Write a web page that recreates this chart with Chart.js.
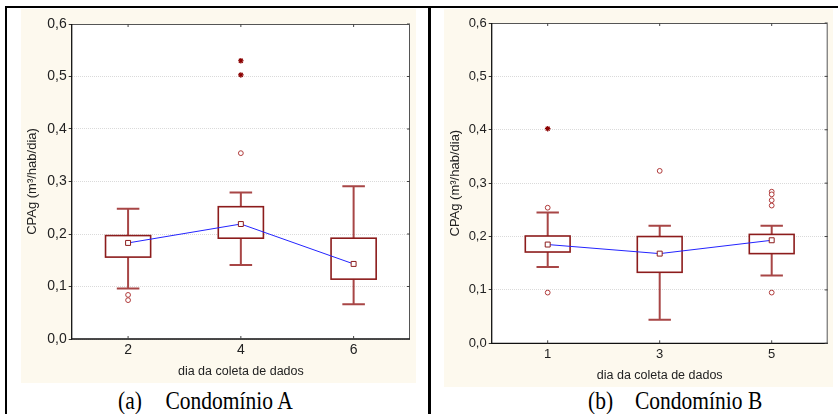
<!DOCTYPE html>
<html>
<head>
<meta charset="utf-8">
<script src="https://cdn.jsdelivr.net/npm/chart.js@4"></script>
<style>
html, body { margin: 0; padding: 0; background: #fff; }
body { width: 838px; height: 414px; position: relative; overflow: hidden; }
.rule { position: absolute; background: #000; }
.panel { position: absolute; background: #fdf9ee; }
.cap {
    position: absolute;
    font-family: 'Liberation Serif', 'Times New Roman', serif;
    font-size: 21.5px;
    line-height: 21.5px;
    color: #000;
    white-space: nowrap;
    transform: scaleY(1.15);
    transform-origin: 0 18px;
}
</style>
</head>
<body>
<div class="rule" style="left:5px;top:6px;width:833px;height:2px"></div>
<div class="rule" style="left:5px;top:6px;width:2px;height:408px"></div>
<div class="rule" style="left:428px;top:6px;width:2.5px;height:408px"></div>

<canvas id="chart-a" class="panel" width="395" height="374" style="left:21px;top:9px"></canvas>
<canvas id="chart-b" class="panel" width="389" height="378" style="left:444px;top:9px"></canvas>

<div class="cap" style="left:118px;top:392px">(a)</div>
<div class="cap" style="left:165.5px;top:392px">Condomínio A</div>
<div class="cap" style="left:588px;top:392px">(b)</div>
<div class="cap" style="left:635px;top:392px">Condomínio B</div>

<script>
// --- Data: Condomínio A ---
const daysA = [2, 4, 6];
const whiskerLowA = [0.096, 0.141, 0.066];
const q1A = [0.156, 0.192, 0.114];
const q3A = [0.197, 0.252, 0.192];
const whiskerHighA = [0.248, 0.279, 0.291];
const meanA = [0.183, 0.219, 0.143];
const outlierDaysA = [2, 2, 4];
const outlierValsA = [0.084, 0.074, 0.354];
const extremeDaysA = [4, 4];
const extremeValsA = [0.530, 0.503];

// --- Data: Condomínio B ---
const daysB = [1, 3, 5];
const whiskerLowB = [0.143, 0.044, 0.127];
const q1B = [0.171, 0.133, 0.168];
const q3B = [0.201, 0.200, 0.204];
const whiskerHighB = [0.245, 0.220, 0.220];
const meanB = [0.185, 0.168, 0.193];
const outlierDaysB = [1, 1, 3, 5, 5, 5, 5, 5];
const outlierValsB = [0.254, 0.095, 0.323, 0.284, 0.279, 0.268, 0.258, 0.095];
const extremeDaysB = [1];
const extremeValsB = [0.402];

// --- Axis labels ---
const yTicks = [0, 0.1, 0.2, 0.3, 0.4, 0.5, 0.6];
const yTitle = 'CPAg (m³/hab/dia)';
const xTitle = 'dia da coleta de dados';

const FONT = "'Liberation Sans', Arial, sans-serif";
const BOX_COLOR = '#8c1c1c';
const WHISKER_COLOR = '#a84646';

// white plot area on the cream panel
const plotBackground = {
    id: 'plotBackground',
    beforeDraw(chart) {
        const { ctx, chartArea: a } = chart;
        ctx.save();
        ctx.fillStyle = '#fff';
        ctx.fillRect(a.left, a.top, a.width, a.height);
        ctx.restore();
    }
};

// boxes, whiskers and the frame round the plot
const boxPlot = {
    id: 'boxPlot',
    beforeDatasetsDraw(chart, args, opts) {
        const { ctx, chartArea: a, scales: { x, y } } = chart;
        const s = opts.stats;
        ctx.save();

        s.days.forEach((day, i) => {
            const xc = x.getPixelForValue(day);
            const halfBox = x.getPixelForValue(day + opts.boxWidth / 2) - xc;
            const halfCap = x.getPixelForValue(day + opts.capWidth / 2) - xc;
            const yLow = y.getPixelForValue(s.low[i]);
            const yQ1 = y.getPixelForValue(s.q1[i]);
            const yQ3 = y.getPixelForValue(s.q3[i]);
            const yHigh = y.getPixelForValue(s.high[i]);

            ctx.strokeStyle = WHISKER_COLOR;
            ctx.lineWidth = 2;
            ctx.beginPath();
            ctx.moveTo(xc, yLow); ctx.lineTo(xc, yQ1);
            ctx.moveTo(xc, yQ3); ctx.lineTo(xc, yHigh);
            ctx.moveTo(xc - halfCap, yLow); ctx.lineTo(xc + halfCap, yLow);
            ctx.moveTo(xc - halfCap, yHigh); ctx.lineTo(xc + halfCap, yHigh);
            ctx.stroke();

            ctx.fillStyle = '#fff';
            ctx.fillRect(xc - halfBox, yQ3, 2 * halfBox, yQ1 - yQ3);
            ctx.strokeStyle = BOX_COLOR;
            ctx.lineWidth = 1.6;
            ctx.strokeRect(xc - halfBox, yQ3, 2 * halfBox, yQ1 - yQ3);
        });

        // frame: top/right grey, left/bottom black
        ctx.lineWidth = 1;
        ctx.strokeStyle = '#555';
        ctx.beginPath();
        ctx.moveTo(a.left, a.top + 0.5); ctx.lineTo(a.right - 0.5, a.top + 0.5);
        ctx.lineTo(a.right - 0.5, a.bottom);
        ctx.stroke();
        ctx.strokeStyle = '#111';
        ctx.lineWidth = 1.3;
        ctx.beginPath();
        ctx.moveTo(a.left, a.top); ctx.lineTo(a.left, a.bottom);
        ctx.lineTo(a.right, a.bottom);
        ctx.stroke();

        // small inward tick marks
        ctx.lineWidth = 1;
        ctx.strokeStyle = '#444';
        ctx.beginPath();
        x.ticks.forEach(t => {
            const px = x.getPixelForValue(t.value);
            ctx.moveTo(px, a.top); ctx.lineTo(px, a.top + 3);
            ctx.moveTo(px, a.bottom); ctx.lineTo(px, a.bottom - 3);
        });
        y.ticks.forEach(t => {
            const py = y.getPixelForValue(t.value);
            ctx.moveTo(a.right, py); ctx.lineTo(a.right - 3, py);
        });
        ctx.stroke();
        ctx.restore();
    }
};

function toPoints(xs, ys) {
    return xs.map((v, i) => ({ x: v, y: ys[i] }));
}

function buildChart(canvasId, stats, look) {
    return new Chart(document.getElementById(canvasId), {
        type: 'scatter',
        data: {
            datasets: [
                {
                    // means joined by the blue line
                    data: toPoints(stats.days, stats.mean),
                    showLine: true,
                    borderColor: '#2424ff',
                    borderWidth: 1,
                    pointStyle: 'rect',
                    pointRadius: 3.5,
                    pointBackgroundColor: '#fff',
                    pointBorderColor: BOX_COLOR,
                    pointBorderWidth: 1
                },
                {
                    data: toPoints(stats.outDays, stats.outVals),
                    pointStyle: 'circle',
                    pointRadius: 2.4,
                    pointBackgroundColor: '#fff',
                    pointBorderColor: '#b03a3a',
                    pointBorderWidth: 1
                },
                {
                    data: toPoints(stats.extDays, stats.extVals),
                    pointStyle: 'star',
                    pointRadius: 2.8,
                    pointBorderColor: '#8b0000',
                    pointBorderWidth: 1.2
                }
            ]
        },
        options: {
            responsive: false,
            animation: false,
            devicePixelRatio: 1,
            layout: { padding: { left: 0, top: look.padTop, right: look.padRight, bottom: 0 } },
            plugins: {
                legend: { display: false },
                tooltip: { enabled: false },
                boxPlot: { stats: stats, boxWidth: 0.8, capWidth: 0.4 }
            },
            scales: {
                x: {
                    type: 'linear',
                    min: look.xMin,
                    max: look.xMax,
                    afterBuildTicks: scale => { scale.ticks = stats.days.map(v => ({ value: v })); },
                    afterFit: scale => { scale.height = look.xHeight; },
                    grid: { display: false, drawTicks: false },
                    border: { display: false },
                    ticks: {
                        color: '#222',
                        padding: 3,
                        font: { family: FONT, size: look.tickSize },
                        callback: v => String(v)
                    },
                    title: {
                        display: true,
                        text: xTitle,
                        color: '#222',
                        font: { family: FONT, size: 12.5 },
                        padding: { top: 0, bottom: look.xTitlePad }
                    }
                },
                y: {
                    type: 'linear',
                    min: 0,
                    max: 0.6,
                    afterBuildTicks: scale => { scale.ticks = yTicks.map(v => ({ value: v })); },
                    afterFit: scale => { scale.width = look.yWidth; },
                    grid: {
                        color: '#dadada',
                        tickColor: '#333',
                        tickLength: 3,
                        tickBorderDash: []
                    },
                    border: { display: false, dash: [1, 1] },
                    ticks: {
                        color: '#222',
                        padding: 2,
                        font: { family: FONT, size: look.tickSize },
                        callback: v => v.toFixed(1).replace('.', ',')
                    },
                    title: {
                        display: true,
                        text: yTitle,
                        color: '#222',
                        font: { family: FONT, size: 13 },
                        padding: { top: look.yTitlePad, bottom: 0 }
                    }
                }
            }
        },
        plugins: [plotBackground, boxPlot]
    });
}

buildChart('chart-a', {
    days: daysA, low: whiskerLowA, q1: q1A, q3: q3A, high: whiskerHighA, mean: meanA,
    outDays: outlierDaysA, outVals: outlierValsA, extDays: extremeDaysA, extVals: extremeValsA
}, { xMin: 1, xMax: 7, padTop: 15, padRight: 6, xHeight: 44, yWidth: 50.7, tickSize: 14, xTitlePad: 3.5, yTitlePad: 3.2 });

buildChart('chart-b', {
    days: daysB, low: whiskerLowB, q1: q1B, q3: q3B, high: whiskerHighB, mean: meanB,
    outDays: outlierDaysB, outVals: outlierValsB, extDays: extremeDaysB, extVals: extremeValsB
}, { xMin: 0, xMax: 6, padTop: 14, padRight: 5.3, xHeight: 43.7, yWidth: 47.7, tickSize: 13, xTitlePad: 3.5, yTitlePad: 3.9 });
</script>
</body>
</html>
